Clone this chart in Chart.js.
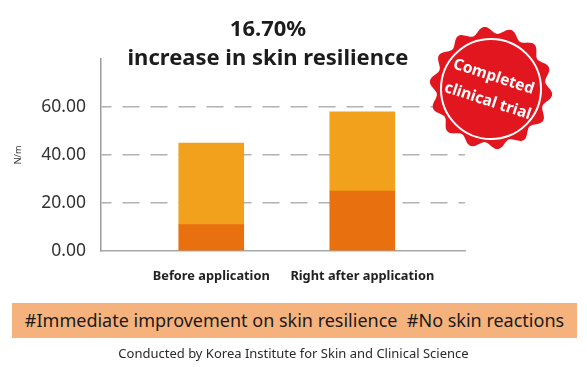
<!DOCTYPE html>
<html>
<head>
<meta charset="utf-8">
<script src="https://cdn.jsdelivr.net/npm/chart.js@4"></script>
<style>
  html, body { margin: 0; padding: 0; background: #fff; }
  #wrap { position: relative; width: 587px; height: 367px; overflow: hidden; font-family: "Noto Sans", sans-serif; }
  #chart { position: absolute; left: 0; top: 0; }
  #title { position: absolute; left: 0; top: 13px; width: 536px; text-align: center; font-weight: bold; font-size: 22px; line-height: 29px; color: #1c1c1c; }
  #banner { position: absolute; left: 12px; top: 303px; width: 565px; height: 35px; background: #f5b27d; text-align: center; font-size: 18px; line-height: 35px; color: #1a1a1a; white-space: pre; }
  #footer { position: absolute; left: 0; top: 345px; width: 587px; text-align: center; font-size: 13px; line-height: 16px; color: #2a2a2a; }
  #stamp { position: absolute; left: 0; top: 0; pointer-events: none; }
</style>
</head>
<body>
<div id="wrap">
  <canvas id="chart" width="587" height="367"></canvas>
  <div id="title">16.70%<br>increase in skin resilience</div>
  <svg id="stamp" width="587" height="367">
    <path id="seal" fill="#e1161f"></path>
    <circle cx="491" cy="89" r="50" fill="none" stroke="#fff" stroke-width="2"></circle>
    <g transform="rotate(18 491 88)" fill="#fff" font-family="Noto Sans, sans-serif" font-weight="bold" font-size="15.5" text-anchor="middle">
      <text x="490" y="81">Completed</text>
      <text x="492" y="106">clinical trial</text>
    </g>
  </svg>
  <div id="banner">#Immediate improvement on skin resilience  #No skin reactions</div>
  <div id="footer">Conducted by Korea Institute for Skin and Clinical Science</div>
</div>
<script>
// 数据
const categories = ['Before application', 'Right after application'];
const baseValues = [11, 25];     // 下段（深橙）
const totalValues = [45, 58];    // 柱子总高
const yTicks = [0, 20, 40, 60];

// 印章的波浪边
function sealPath(cx, cy, r, amp, bumps) {
    let d = '';
    for (let i = 0; i <= 360; i++) {
        const a = i * Math.PI / 180;
        const rr = r + amp * Math.sin(bumps * a);
        const x = cx + rr * Math.cos(a);
        const y = cy + rr * Math.sin(a);
        d += (i === 0 ? 'M' : 'L') + x.toFixed(1) + ' ' + y.toFixed(1);
    }
    return d + 'Z';
}
document.getElementById('seal').setAttribute('d', sealPath(491, 88, 58, 3.5, 14));

const lowerData = categories.map((c, i) => ({ x: i, y: baseValues[i] }));
const upperData = categories.map((c, i) => ({ x: i, y: totalValues[i] - baseValues[i] }));

new Chart(document.getElementById('chart'), {
    type: 'bar',
    data: {
        datasets: [
            { data: lowerData, backgroundColor: '#e9700f', barThickness: 65 },
            { data: upperData, backgroundColor: '#f2a11d', barThickness: 65 }
        ]
    },
    options: {
        responsive: false,
        animation: false,
        layout: { padding: { top: 59, right: 122, bottom: 0, left: 0 } },
        plugins: {
            legend: { display: false },
            tooltip: { enabled: false }
        },
        scales: {
            x: {
                type: 'linear',
                min: -0.73,
                max: 1.68,
                offset: false,
                stacked: true,
                grid: { display: false, drawTicks: false },
                border: { display: true, color: '#a8a8a8', width: 1.5 },
                afterBuildTicks: s => { s.ticks = categories.map((c, i) => ({ value: i })); },
                ticks: {
                    callback: v => categories[v],
                    autoSkip: false,
                    maxRotation: 0,
                    padding: 18,
                    color: '#222',
                    font: { family: 'Noto Sans', size: 12.8, weight: 'bold' }
                },
                afterFit: s => { s.height = 116; }
            },
            y: {
                stacked: true,
                min: 0,
                max: 80,
                afterBuildTicks: s => { s.ticks = yTicks.map(v => ({ value: v })); },
                grid: {
                    drawTicks: false,
                    lineWidth: 1.5,
                    color: ctx => (ctx.tick && ctx.tick.value === 0) ? 'rgba(0,0,0,0)' : '#b2b2b2'
                },
                border: { display: true, color: '#9c9c9c', width: 1.5, dash: [17, 11], dashOffset: 7 },
                ticks: {
                    callback: v => v.toFixed(2),
                    padding: 15,
                    color: '#333',
                    font: { family: 'Noto Sans', size: 17.5 }
                },
                title: {
                    display: true,
                    text: 'N/m',
                    color: '#333',
                    font: { family: 'Noto Sans', size: 9 },
                    padding: { top: 13, bottom: 0 }
                },
                afterFit: s => { s.width = 101; }
            }
        }
    }
});
</script>
</body>
</html>
